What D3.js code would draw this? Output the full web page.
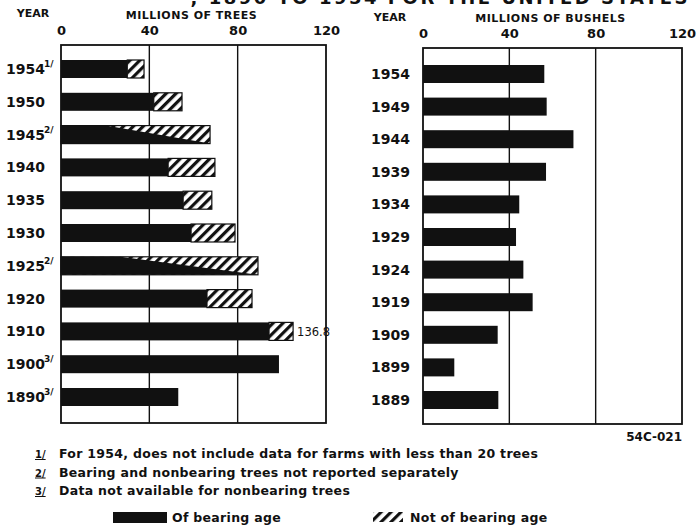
<!DOCTYPE html>
<html><head><meta charset="utf-8">
<script src="https://cdn.jsdelivr.net/npm/d3@7"></script>
<style>
body{margin:0;background:#fff;}
svg{display:block;}
text{font-family:"DejaVu Sans",sans-serif;fill:#111;}
</style></head>
<body>
<svg id="c" width="698" height="525"></svg>
<script>
// ---- data ----
const treeYears = ["1954","1950","1945","1940","1935","1930","1925","1920","1910","1900","1890"];
const treeFootnotes = ["1/","","2/","","","","2/","","","3/","3/"];
const treesBearing = [30, 42, 0, 48.5, 55.3, 58.9, 0, 66.1, 94.2, 98.7, 53.1];
const treesTotal   = [37.6, 54.8, 67.5, 69.7, 68.3, 78.8, 89.2, 86.5, 105.1, 98.7, 53.1];
const treesNotSeparated = [false,false,true,false,false,false,true,false,false,false,false];
const treeLabels = ["","","","","","","","","136.8","",""];
const bushelYears = ["1954","1949","1944","1939","1934","1929","1924","1919","1909","1899","1889"];
const bushels = [56.2, 57.3, 69.7, 57.0, 44.6, 43.1, 46.5, 50.8, 34.6, 14.5, 34.9];
const xTicks = [0, 40, 80, 120];
const footnotes = [
  ["1/", "For 1954, does not include data for farms with less than 20 trees"],
  ["2/", "Bearing and nonbearing trees not reported separately"],
  ["3/", "Data not available for nonbearing trees"]
];
const legendItems = ["Of bearing age", "Not of bearing age"];

const svg = d3.select("#c");
const defs = svg.append("defs");
const pat = defs.append("pattern").attr("id","hatch").attr("patternUnits","userSpaceOnUse")
  .attr("width",7).attr("height",7).attr("patternTransform","rotate(45)");
pat.append("rect").attr("width",7).attr("height",7).attr("fill","#fff");
pat.append("rect").attr("x",0).attr("width",3.2).attr("height",7).attr("fill","#111");

// clipped title (only its lower edge is visible in the reference)
svg.append("text").attr("x",690).attr("y",4).attr("text-anchor","end")
  .attr("font-size",18).attr("font-weight","bold").attr("letter-spacing",2.5)
  .text(", 1890 TO 1954 FOR THE UNITED STATES");

function panel(opts){
  const g = svg.append("g");
  const x = d3.scaleLinear().domain([0,120]).range([opts.x0, opts.x1]);
  const y = d3.scalePoint().domain(opts.years).range([opts.yFirst, opts.yLast]);
  const ax = g.append("g").attr("transform",`translate(0,${opts.tickY})`)
    .call(d3.axisTop(x).tickValues(xTicks).tickSize(0).tickFormat(d3.format("d")));
  ax.select(".domain").remove();
  ax.selectAll("text").attr("font-size",13).attr("font-weight","bold").attr("font-family","DejaVu Sans").attr("fill","#111").attr("dy","0");
  g.append("text").attr("x",(opts.x0+opts.x1)/2 - 2).attr("y",opts.titleY).attr("text-anchor","middle")
    .attr("font-size",11).attr("font-weight","bold").attr("letter-spacing",0.5).text(opts.title);
  g.append("text").attr("x",opts.yearX).attr("y",opts.yearY).attr("text-anchor","middle")
    .attr("font-size",11).attr("font-weight","bold").text("YEAR");
  g.selectAll("line.grid").data([40,80]).join("line")
    .attr("x1",d=>x(d)).attr("x2",d=>x(d)).attr("y1",opts.top).attr("y2",opts.bottom)
    .attr("stroke","#111").attr("stroke-width",1.4);
  g.append("rect").attr("x",x(0)).attr("y",opts.top).attr("width",x(120)-x(0)).attr("height",opts.bottom-opts.top)
    .attr("fill","none").attr("stroke","#111").attr("stroke-width",1.8);
  return {g,x,y};
}

// left panel
const L = panel({x0:61,x1:326,top:45,bottom:423,yFirst:69,yLast:397,years:treeYears,
  title:"MILLIONS OF TREES",yearX:33,yearY:17,titleY:19,tickY:38});
const bh = 18;
treeYears.forEach((yr,i)=>{
  const cy = L.y(yr);
  if (treesTotal[i] > treesBearing[i] && !treesNotSeparated[i]) {
    L.g.append("rect").attr("x",L.x(treesBearing[i])).attr("y",cy-bh/2)
      .attr("width",L.x(treesTotal[i])-L.x(treesBearing[i])).attr("height",bh)
      .attr("fill","url(#hatch)").attr("stroke","#111").attr("stroke-width",1.2);
  }
  if (treesNotSeparated[i]) {
    L.g.append("rect").attr("x",L.x(0)).attr("y",cy-bh/2)
      .attr("width",L.x(treesTotal[i])-L.x(0)).attr("height",bh)
      .attr("fill","url(#hatch)").attr("stroke","#111").attr("stroke-width",1.2);
    const pts = [[L.x(0),cy-bh/2],[L.x(treesTotal[i]*0.3),cy-bh/2],[L.x(treesTotal[i]),cy+bh/2],[L.x(0),cy+bh/2]];
    L.g.append("path").attr("d",d3.line()(pts)+"Z").attr("fill","#111");
  } else {
    L.g.append("rect").attr("x",L.x(0)).attr("y",cy-bh/2)
      .attr("width",L.x(treesBearing[i])-L.x(0)).attr("height",bh).attr("fill","#111");
  }
  L.g.append("text").attr("x",6).attr("y",cy+5).attr("font-size",14).attr("font-weight","bold").text(yr);
  if (treeFootnotes[i]) {
    L.g.append("text").attr("x",44).attr("y",cy-2).attr("font-size",9).attr("font-weight","bold").text(treeFootnotes[i]);
  }
  if (treeLabels[i]) {
    L.g.append("text").attr("x",L.x(treesTotal[i])+4).attr("y",cy+5).attr("font-size",11.5).text(treeLabels[i]);
  }
});

// right panel
const R = panel({x0:423,x1:682,top:48,bottom:424,yFirst:74,yLast:400,years:bushelYears,
  title:"MILLIONS OF BUSHELS",yearX:390,yearY:21,titleY:22,tickY:41});
bushelYears.forEach((yr,i)=>{
  const cy = R.y(yr);
  R.g.append("rect").attr("x",R.x(0)).attr("y",cy-bh/2)
    .attr("width",R.x(bushels[i])-R.x(0)).attr("height",bh).attr("fill","#111");
  R.g.append("text").attr("x",410).attr("y",cy+5).attr("text-anchor","end")
    .attr("font-size",14).attr("font-weight","bold").text(yr);
});
svg.append("text").attr("x",682).attr("y",441).attr("text-anchor","end").attr("font-size",12).attr("font-weight","bold").text("54C-021");

// footnotes
footnotes.forEach((f,i)=>{
  const yy = 458 + i*18.5;
  svg.append("text").attr("x",35).attr("y",yy).attr("font-size",10).attr("font-weight","bold").attr("text-decoration","underline").text(f[0]);
  svg.append("text").attr("x",59).attr("y",yy).attr("font-size",12.5).attr("font-weight","bold").attr("letter-spacing",0.3).text(f[1]);
});

// legend
svg.append("rect").attr("x",113).attr("y",512).attr("width",54).attr("height",11).attr("fill","#111");
svg.append("text").attr("x",172).attr("y",522).attr("font-size",12.5).attr("font-weight","bold").attr("letter-spacing",0.3).text(legendItems[0]);
svg.append("rect").attr("x",373).attr("y",512).attr("width",30).attr("height",10).attr("fill","url(#hatch)");
svg.append("text").attr("x",410).attr("y",522).attr("font-size",12.5).attr("font-weight","bold").attr("letter-spacing",0.3).text(legendItems[1]);
</script>
</body></html>
